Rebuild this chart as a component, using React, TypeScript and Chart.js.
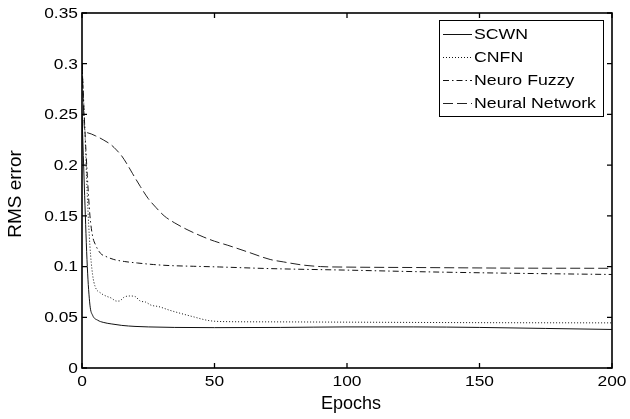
import React, { useEffect, useRef } from 'react';
import { Chart, registerables } from 'chart.js';

Chart.register(...registerables);

const seriesNames = ['SCWN', 'CNFN', 'Neuro Fuzzy', 'Neural Network'];

const scwnEpochs = [0, 1, 2, 3, 4, 6, 8, 11, 15, 20, 25, 35, 50, 75, 100, 125, 150, 175, 200];
const scwnValues = [0.25, 0.17, 0.1, 0.062, 0.052, 0.047, 0.045, 0.0435, 0.042, 0.041, 0.0405, 0.04, 0.0398, 0.04, 0.0405, 0.0405, 0.04, 0.039, 0.038];

const cnfnEpochs = [0, 1, 2, 3, 4, 5, 7, 9, 11, 13, 14, 16, 18, 20, 22, 24, 26, 29, 33, 37, 42, 48, 55, 70, 100, 150, 200];
const cnfnValues = [0.3, 0.24, 0.17, 0.12, 0.092, 0.08, 0.074, 0.071, 0.069, 0.066, 0.066, 0.07, 0.071, 0.0705, 0.066, 0.065, 0.062, 0.0605, 0.057, 0.054, 0.0505, 0.0467, 0.0457, 0.0455, 0.0452, 0.0447, 0.0445];

const nfEpochs = [0, 1, 2, 3, 4, 5, 7, 9, 12, 16, 21, 27, 33, 42, 52, 71, 100, 126, 160, 200];
const nfValues = [0.3, 0.24, 0.19, 0.15, 0.13, 0.122, 0.113, 0.11, 0.107, 0.105, 0.1035, 0.102, 0.101, 0.1003, 0.0996, 0.098, 0.0965, 0.095, 0.0935, 0.0922];

const nnEpochs = [0, 1, 2, 5, 8, 11, 13, 15, 17, 19, 22, 25, 28, 31, 35, 40, 46, 50, 55, 63, 71, 76, 83, 90, 100, 130, 160, 200];
const nnValues = [0.3, 0.235, 0.232, 0.229, 0.225, 0.22, 0.215, 0.209, 0.201, 0.192, 0.179, 0.167, 0.158, 0.15, 0.143, 0.136, 0.129, 0.125, 0.121, 0.114, 0.107, 0.1046, 0.1016, 0.1, 0.0995, 0.099, 0.0985, 0.0983];

const xTickValues = [0, 50, 100, 150, 200];
const xTickLabels = ['0', '50', '100', '150', '200'];
const yTickValues = [0, 0.05, 0.1, 0.15, 0.2, 0.25, 0.3, 0.35];
const yTickLabels = ['0', '0.05', '0.1', '0.15', '0.2', '0.25', '0.3', '0.35'];

const xTitle = 'Epochs';
const yTitle = 'RMS error';

const FONT = '"Liberation Sans", Arial, sans-serif';

const dashes: number[][] = [[], [1, 2], [6, 3, 1.5, 3], [10, 4]];
const colors = ['#111', '#111', '#111', '#222'];

function pts(xs: number[], ys: number[]) {
  return xs.map((x, i) => ({ x, y: ys[i] }));
}

function stretchText(ctx: CanvasRenderingContext2D, text: string, x: number, y: number, align: CanvasTextAlign, sx: number) {
  ctx.save();
  ctx.translate(x, y);
  ctx.scale(sx, 1);
  ctx.textAlign = align;
  ctx.textBaseline = 'middle';
  ctx.fillText(text, 0, 0);
  ctx.restore();
}

const framePlugin = {
  id: 'matlabFrame',
  afterDatasetsDraw(chart: any) {
    const ctx: CanvasRenderingContext2D = chart.ctx;
    const { left, right, top, bottom } = chart.chartArea;
    const xs = chart.scales.x;
    const ys = chart.scales.y;
    ctx.save();
    ctx.strokeStyle = '#000';
    ctx.lineWidth = 1.6;
    ctx.setLineDash([]);
    ctx.strokeRect(left, top, right - left, bottom - top);
    const tl = 5;
    ctx.lineWidth = 1.3;
    ctx.beginPath();
    xTickValues.forEach((v) => {
      const px = xs.getPixelForValue(v);
      ctx.moveTo(px, bottom);
      ctx.lineTo(px, bottom - tl);
      ctx.moveTo(px, top);
      ctx.lineTo(px, top + tl);
    });
    yTickValues.forEach((v) => {
      const py = ys.getPixelForValue(v);
      ctx.moveTo(left, py);
      ctx.lineTo(left + tl, py);
      ctx.moveTo(right, py);
      ctx.lineTo(right - tl, py);
    });
    ctx.stroke();

    ctx.fillStyle = '#000';
    ctx.font = `14px ${FONT}`;
    yTickValues.forEach((v, i) => {
      const py = ys.getPixelForValue(v);
      stretchText(ctx, yTickLabels[i], left - 4, py + 1, 'right', 1.24);
    });
    xTickValues.forEach((v, i) => {
      const px = xs.getPixelForValue(v);
      stretchText(ctx, xTickLabels[i], px, bottom + 14.5, 'center', 1.24);
    });

    ctx.font = `18px ${FONT}`;
    stretchText(ctx, xTitle, (left + right) / 2 + 4, 404, 'center', 1.0);
    ctx.save();
    ctx.translate(16, 194);
    ctx.rotate(-Math.PI / 2);
    ctx.font = `19px ${FONT}`;
    ctx.textAlign = 'center';
    ctx.textBaseline = 'middle';
    ctx.fillText(yTitle, 0, 0);
    ctx.restore();

    // legend
    const bx = 439, by = 20, bw = 164, bh = 96;
    ctx.fillStyle = '#fff';
    ctx.fillRect(bx, by, bw, bh);
    ctx.lineWidth = 1;
    ctx.strokeStyle = '#000';
    ctx.strokeRect(bx + 0.5, by + 0.5, bw, bh);
    ctx.font = `15px ${FONT}`;
    chart.data.datasets.forEach((ds: any, i: number) => {
      const cy = 34 + i * 23;
      ctx.strokeStyle = ds.borderColor;
      ctx.lineWidth = 1;
      ctx.setLineDash(ds.borderDash || []);
      ctx.beginPath();
      ctx.moveTo(443, cy + 0.5);
      ctx.lineTo(472, cy + 0.5);
      ctx.stroke();
      ctx.setLineDash([]);
      ctx.fillStyle = '#000';
      stretchText(ctx, ds.label, 474, cy + 0.5, 'left', 1.18);
    });
    ctx.restore();
  },
};

export default function App() {
  const ref = useRef<HTMLCanvasElement>(null);
  useEffect(() => {
    if (!ref.current) return;
    const series = [pts(scwnEpochs, scwnValues), pts(cnfnEpochs, cnfnValues), pts(nfEpochs, nfValues), pts(nnEpochs, nnValues)];
    const chart = new Chart(ref.current, {
      type: 'line',
      data: {
        datasets: series.map((d, i) => ({
          label: seriesNames[i],
          data: d,
          borderColor: colors[i],
          borderWidth: 1,
          borderDash: dashes[i],
          pointRadius: 0,
          fill: false,
          cubicInterpolationMode: 'monotone' as const,
        })),
      },
      options: {
        responsive: false,
        devicePixelRatio: 1,
        animation: false,
        layout: { padding: { left: 0, top: 13, right: 18, bottom: 0 } },
        plugins: { legend: { display: false }, tooltip: { enabled: false } },
        scales: {
          x: {
            type: 'linear',
            min: 0,
            max: 200,
            grid: { display: false },
            border: { display: false },
            ticks: { display: false, stepSize: 50 },
            afterFit: (s: any) => { s.height = 51; },
          },
          y: {
            type: 'linear',
            min: 0,
            max: 0.35,
            grid: { display: false },
            border: { display: false },
            ticks: { display: false, stepSize: 0.05 },
            afterFit: (s: any) => { s.width = 82; },
          },
        },
      },
      plugins: [framePlugin],
    });
    return () => chart.destroy();
  }, []);
  return (
    <div style={{ position: 'fixed', left: 0, top: 0, width: 630, height: 419, background: '#fff' }}>
      <canvas ref={ref} width={630} height={419} style={{ width: 630, height: 419, display: 'block' }} />
    </div>
  );
}
